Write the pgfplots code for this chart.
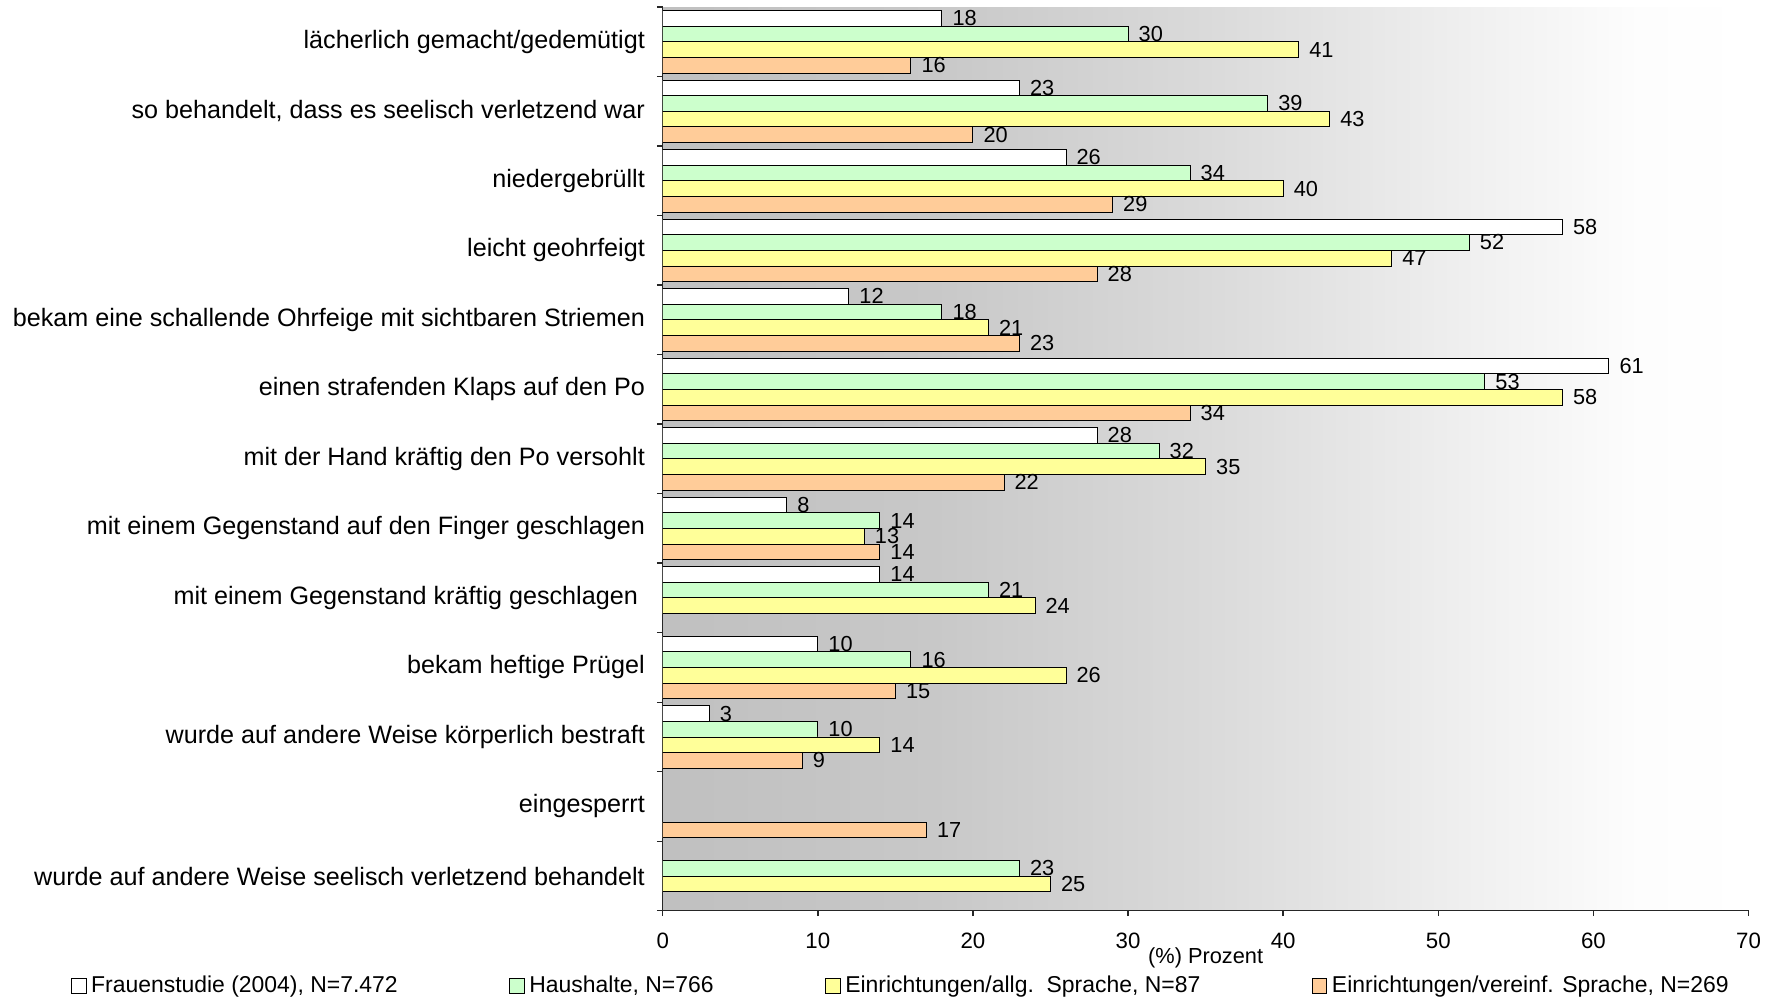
\documentclass[border=0pt]{standalone}
\usepackage{fontspec}
\setmainfont{Liberation Sans}
\usepackage{pgfplots}
\pgfplotsset{compat=1.18}
\definecolor{cgreen}{HTML}{CCFFCC}
\definecolor{cyellow}{HTML}{FFFF99}
\definecolor{corange}{HTML}{FFCC99}
\definecolor{g0}{HTML}{C0C0C0}
\definecolor{g1}{HTML}{C8C8C8}
\definecolor{g2}{HTML}{DADADA}
\definecolor{g3}{HTML}{F0F0F0}
\definecolor{g4}{HTML}{FDFDFD}
\pgfdeclarehorizontalshading{bgshade}{100bp}{color(0bp)=(g0); color(25bp)=(g0); color(37.5bp)=(g1); color(50bp)=(g2); color(62.5bp)=(g3); color(70bp)=(g4); color(75bp)=(white); color(100bp)=(white)}
\pgfplotsset{
  mybar/.style={draw=black, line width=0.4pt, fill=#1,
    legend image code/.code={\draw[fill=#1,draw=black,line width=0.4pt] (0pt,-3.15pt) rectangle (6.3pt,3.15pt); \path (7.3pt,0pt);}},
}
\begin{document}
\begin{tikzpicture}
\useasboundingbox (-283.2pt,-38.6pt) rectangle (475.3pt,389.2pt);
\begin{axis}[
  scale only axis, width=464pt, height=386.2pt,
  at={(0,0)}, anchor=south west,
  xbar, bar width=0.225,
  xmin=0, xmax=70, xtick={0,10,...,70},
  ymin=-0.5, ymax=12.5,
  ytick={0,...,12},
  yticklabels={
    wurde auf andere Weise seelisch verletzend behandelt,
    eingesperrt,
    wurde auf andere Weise körperlich bestraft,
    bekam heftige Prügel,
    mit einem Gegenstand kräftig geschlagen\kern3pt,
    mit einem Gegenstand auf den Finger geschlagen,
    mit der Hand kräftig den Po versohlt,
    einen strafenden Klaps auf den Po,
    bekam eine schallende Ohrfeige mit sichtbaren Striemen,
    leicht geohrfeigt,
    niedergebrüllt,
    {so behandelt, dass es seelisch verletzend war},
    lächerlich gemacht/gedemütigt},
  minor ytick={-0.5,0.5,...,12.5},
  axis lines=left, axis line style={-, black!85, line width=0.6pt},
  tick align=outside,
  major tick length=2.3pt, minor tick length=2.5pt,
  major y tick style={draw=none},
  minor y tick style={draw=black!85, line width=0.6pt},
  major x tick style={draw=black!85, line width=0.6pt},
  /pgf/number format/assume math mode=true,
  tick label style={font=\fontsize{9.5}{11}\selectfont},
  xticklabel style={yshift=-3.5pt},
  yticklabel style={font=\fontsize{10.75}{12}\selectfont, xshift=-1.8pt},
  xlabel={(\%) Prozent},
  xlabel style={at={(axis description cs:0.5,0)}, anchor=center, yshift=-20.1pt, font=\fontsize{9.3}{11}\selectfont},
  axis background/.style={shading=bgshade},
  nodes near coords,
  nodes near coords style={font=\fontsize{9.3}{11}\selectfont, anchor=west, xshift=1pt},
  legend columns=4,
  legend cell align=left,
  legend style={draw=none, fill=none, inner sep=0pt, nodes={inner sep=1pt},
    at={(axis description cs:0,0)}, anchor=west,
    xshift=-253.15pt, yshift=-32.2pt, font=\fontsize{9.8}{11}\selectfont,
    /tikz/every even column/.append style={column sep=46.56pt}},
]
\addplot[mybar=white, bar shift=0.3375] coordinates {
  (18,12) (23,11) (26,10) (58,9) (12,8) (61,7) (28,6) (8,5) (14,4) (10,3) (3,2)};
\addlegendentry{Frauenstudie (2004), N=7.472}
\addplot[mybar=cgreen, bar shift=0.1125] coordinates {
  (30,12) (39,11) (34,10) (52,9) (18,8) (53,7) (32,6) (14,5) (21,4) (16,3) (10,2) (23,0)};
\addlegendentry{Haushalte, N=766}
\addplot[mybar=cyellow, bar shift=-0.1125] coordinates {
  (41,12) (43,11) (40,10) (47,9) (21,8) (58,7) (35,6) (13,5) (24,4) (26,3) (14,2) (25,0)};
\addlegendentry{Einrichtungen/allg.\ \ Sprache, N=87}
\addplot[mybar=corange, bar shift=-0.3375] coordinates {
  (16,12) (20,11) (29,10) (28,9) (23,8) (34,7) (22,6) (14,5) (15,3) (9,2) (17,1)};
\addlegendentry{Einrichtungen/vereinf. Sprache, N=269}
\end{axis}
\end{tikzpicture}
\end{document}
